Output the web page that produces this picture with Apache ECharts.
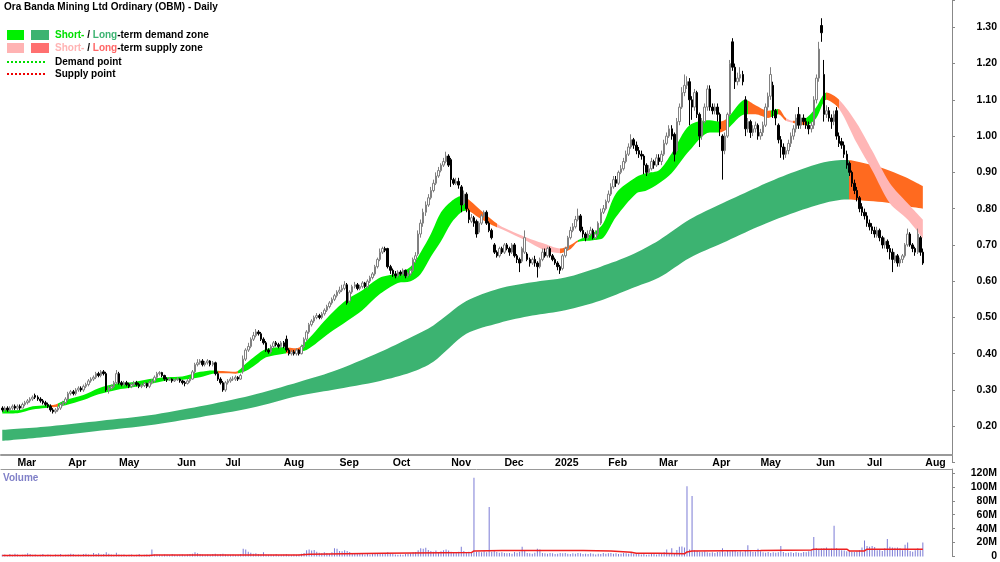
<!DOCTYPE html>
<html>
<head>
<meta charset="utf-8">
<script src="https://cdn.jsdelivr.net/npm/echarts@6/dist/echarts.min.js"></script>
<style>
html, body { margin: 0; padding: 0; background: #fff; }
#chart { width: 1000px; height: 562px; }
</style>
</head>
<body>
<div id="chart"></div>
<script>
// trading calendar
const startDate = '2024-02-22';
const holidays = ['2024-03-29','2024-04-01','2024-04-25','2024-06-10','2024-12-25','2024-12-26',
  '2025-01-01','2025-01-27','2025-04-18','2025-04-21','2025-04-25','2025-06-09'];
const padDays = 11;
const monthNames = ['Jan','Feb','Mar','Apr','May','Jun','Jul','Aug','Sep','Oct','Nov','Dec'];

// daily prices
const opens = [
.250,.245,.250,.245,.250,.255,.250,.255,.250,.260, .265,.270,.275,.285,.280,.275,.270,.265,.260,.255,
.245,.240,.245,.250,.260,.265,.275,.290,.295,.290, .300,.305,.300,.310,.315,.325,.330,.335,.345,.340,
.350,.345,.300,.305,.310,.320,.345,.320,.315,.320, .315,.310,.315,.320,.315,.310,.312,.318,.310,.320,
.325,.335,.345,.348,.340,.330,.328,.330,.325,.328, .330,.325,.320,.318,.325,.330,.350,.370,.375,.380,
.370,.375,.380,.370,.375,.345,.330,.320,.300,.320, .325,.330,.330,.335,.330,.350,.385,.410,.420,.440,
.450,.460,.455,.440,.430,.410,.405,.420,.430,.425, .420,.430,.440,.410,.400,.405,.400,.410,.400,.420,
.440,.460,.480,.490,.500,.505,.500,.510,.520,.530, .540,.550,.560,.570,.575,.580,.590,.545,.570,.585,
.590,.580,.585,.595,.585,.600,.610,.620,.640,.660, .680,.690,.690,.640,.630,.620,.615,.625,.620,.630,
.615,.620,.630,.660,.675,.730,.760,.790,.810,.830, .850,.870,.890,.905,.920,.930,.945,.935,.880,.870,
.875,.860,.815,.840,.795,.765,.775,.765,.735,.760, .780,.790,.760,.740,.700,.680,.670,.690,.680,.700,
.690,.680,.700,.670,.660,.655,.680,.675,.660,.650, .660,.650,.640,.660,.680,.670,.690,.670,.660,.650,
.640,.635,.670,.690,.720,.740,.750,.770,.780,.740, .730,.720,.730,.740,.720,.730,.760,.790,.800,.820,
.840,.860,.880,.870,.900,.910,.930,.950,.970,.990, .975,.960,.950,.945,.920,.900,.910,.930,.920,.940,
.930,.950,.980,1.000,1.020,1.005,.960,1.040,1.080,1.120, 1.140,1.150,1.100,1.080,1.120,1.060,1.000,1.040,1.080,1.130,
1.080,1.070,1.080,1.060,1.000,.960,1.000,1.060,1.260,1.190, 1.150,1.160,1.170,1.100,1.020,1.040,1.010,1.020,1.030,1.000,
1.010,1.030,1.080,1.110,1.140,1.070,1.030,.990,.970,.950, .960,.980,1.000,1.020,1.060,1.030,1.050,1.040,1.030,1.020,
1.030,1.100,1.160,1.305,1.170,1.060,1.070,1.050,1.040,1.070, 1.000,.985,.975,.950,.925,.900,.870,.850,.830,.805,
.790,.780,.760,.750,.740,.725,.740,.720,.700,.710, .690,.680,.655,.670,.650,.660,.670,.700,.730,.700,.690,.680,.720,.680
];
const closes = [
.245,.250,.245,.250,.255,.250,.255,.250,.260,.265, .270,.275,.280,.280,.275,.270,.265,.260,.255,.245,
.240,.245,.250,.260,.265,.275,.290,.295,.290,.300, .305,.300,.310,.315,.325,.330,.335,.345,.340,.350,
.345,.300,.305,.310,.320,.345,.320,.315,.320,.315, .310,.315,.320,.315,.310,.312,.318,.310,.320,.325,
.335,.345,.348,.340,.330,.328,.330,.325,.328,.330, .325,.320,.318,.325,.330,.350,.370,.375,.380,.370,
.375,.380,.370,.375,.345,.330,.320,.300,.320,.325, .330,.330,.335,.330,.340,.385,.410,.420,.440,.450,
.460,.455,.440,.430,.410,.405,.420,.430,.425,.420, .430,.420,.410,.400,.405,.400,.410,.400,.420,.440,
.460,.480,.490,.500,.505,.500,.510,.520,.530,.540, .550,.560,.570,.575,.580,.590,.540,.570,.585,.590,
.580,.585,.595,.585,.600,.610,.620,.640,.660,.680, .690,.685,.640,.630,.620,.615,.625,.620,.630,.615,
.620,.630,.660,.670,.730,.760,.790,.810,.830,.850, .870,.890,.905,.920,.930,.945,.920,.880,.870,.875,
.865,.810,.840,.800,.770,.775,.760,.730,.760,.780, .790,.760,.740,.720,.680,.670,.690,.680,.700,.690,
.680,.700,.670,.660,.650,.690,.720,.660,.650,.660, .650,.640,.660,.680,.670,.690,.670,.660,.650,.640,
.630,.670,.690,.720,.740,.750,.770,.780,.740,.730, .720,.730,.740,.720,.730,.760,.790,.800,.820,.840,
.860,.880,.870,.900,.910,.930,.950,.970,.990,.975, .960,.950,.945,.920,.900,.910,.930,.920,.940,.930,
.950,.980,1.000,1.020,1.000,.950,1.040,1.080,1.120,1.140, 1.150,1.100,1.080,1.120,1.060,1.000,1.040,1.080,1.130,1.080,
1.070,1.080,1.060,1.020,.960,1.000,1.060,1.200,1.190,1.150, 1.160,1.170,1.150,1.020,1.040,1.010,1.020,1.030,1.000,1.010,
1.030,1.080,1.110,1.170,1.070,1.050,.990,.970,.950,.960, .980,1.000,1.020,1.050,1.030,1.050,1.040,1.030,1.020,1.030,
1.100,1.160,1.240,1.285,1.060,1.070,1.050,1.040,1.060,1.000, .980,.975,.950,.920,.900,.870,.850,.830,.800,.790,
.780,.760,.750,.740,.730,.740,.720,.700,.710,.690, .680,.660,.670,.650,.660,.670,.700,.730,.700,.690,.680,.730,.680,.650
];
const highs = [
.255,.255,.255,.255,.260,.260,.260,.260,.265,.270, .275,.280,.285,.290,.285,.280,.275,.270,.265,.260,
.250,.250,.255,.265,.270,.280,.295,.300,.300,.305, .310,.310,.315,.320,.330,.335,.340,.350,.350,.355,
.355,.350,.310,.315,.325,.355,.350,.325,.325,.325, .320,.320,.325,.325,.320,.318,.322,.320,.325,.330,
.340,.350,.352,.350,.342,.335,.335,.332,.332,.335, .332,.328,.325,.330,.335,.355,.375,.385,.385,.385,
.380,.385,.382,.380,.378,.350,.335,.325,.325,.330, .335,.338,.340,.338,.345,.395,.415,.430,.445,.460,
.468,.465,.460,.445,.435,.415,.425,.435,.435,.430, .435,.435,.450,.415,.410,.410,.415,.412,.425,.445,
.465,.485,.495,.505,.512,.510,.515,.525,.535,.545, .555,.565,.575,.585,.590,.600,.595,.575,.590,.598,
.595,.590,.600,.598,.605,.615,.625,.645,.665,.690, .695,.695,.692,.645,.635,.628,.630,.630,.635,.632,
.625,.635,.665,.680,.740,.770,.800,.820,.840,.860, .880,.900,.915,.925,.940,.957,.950,.940,.885,.885,
.885,.865,.850,.845,.800,.785,.780,.770,.765,.785, .795,.795,.765,.745,.705,.685,.695,.695,.705,.705,
.695,.705,.705,.675,.665,.695,.740,.680,.665,.665, .670,.655,.665,.690,.690,.695,.695,.675,.665,.655,
.645,.675,.695,.725,.750,.760,.780,.800,.785,.750, .735,.740,.750,.745,.740,.765,.800,.810,.825,.850,
.870,.890,.890,.905,.920,.940,.960,.980,1.005,.995, .985,.970,.960,.950,.925,.920,.940,.935,.950,.950,
.960,.990,1.010,1.030,1.030,1.010,1.050,1.090,1.135,1.170, 1.165,1.160,1.110,1.130,1.125,1.065,1.050,1.090,1.140,1.140,
1.090,1.090,1.090,1.065,1.005,1.010,1.065,1.210,1.270,1.200, 1.175,1.190,1.180,1.110,1.050,1.045,1.030,1.040,1.035,1.020,
1.040,1.090,1.120,1.190,1.150,1.075,1.035,1.000,.980,.970, .990,1.010,1.030,1.060,1.080,1.060,1.060,1.050,1.040,1.040,
1.110,1.170,1.260,1.325,1.210,1.085,1.080,1.060,1.070,1.080, 1.010,.995,.985,.960,.930,.905,.880,.860,.835,.815,
.800,.790,.770,.760,.750,.750,.745,.725,.720,.715, .700,.690,.680,.675,.665,.675,.705,.745,.735,.705,.695,.745,.725,.690
];
const lows = [
.240,.240,.240,.240,.245,.245,.245,.245,.250,.255, .260,.265,.270,.275,.270,.265,.260,.255,.250,.240,
.235,.235,.240,.245,.255,.260,.270,.285,.285,.285, .295,.295,.295,.305,.310,.320,.325,.330,.335,.335,
.340,.295,.290,.300,.305,.315,.315,.310,.310,.310, .305,.305,.310,.310,.305,.305,.308,.305,.305,.315,
.320,.330,.340,.335,.325,.322,.325,.320,.322,.325, .320,.315,.310,.315,.320,.328,.345,.365,.370,.365,
.365,.370,.365,.365,.340,.325,.315,.295,.295,.315, .320,.325,.325,.325,.328,.345,.380,.405,.415,.435,
.445,.450,.435,.425,.405,.400,.400,.415,.420,.415, .415,.415,.405,.395,.395,.395,.395,.395,.398,.415,
.435,.455,.475,.485,.495,.495,.495,.505,.515,.525, .535,.545,.555,.565,.570,.575,.535,.540,.565,.580,
.575,.575,.580,.580,.580,.595,.605,.615,.635,.655, .675,.680,.635,.620,.612,.608,.610,.615,.615,.608,
.610,.615,.625,.650,.670,.720,.750,.780,.805,.825, .845,.865,.885,.900,.915,.925,.915,.860,.865,.865,
.855,.790,.810,.790,.760,.760,.750,.720,.730,.755, .775,.755,.735,.715,.675,.665,.665,.675,.675,.685,
.670,.675,.665,.650,.625,.650,.675,.655,.640,.645, .640,.610,.635,.655,.665,.665,.665,.655,.645,.630,
.620,.630,.665,.685,.715,.735,.745,.765,.735,.720, .710,.715,.725,.715,.715,.725,.755,.785,.795,.815,
.835,.855,.860,.865,.895,.905,.925,.945,.965,.965, .950,.940,.935,.895,.890,.895,.905,.910,.915,.920,
.920,.945,.975,.995,.990,.930,.955,1.030,1.075,1.110, 1.130,1.030,1.045,1.070,1.050,.970,.990,1.035,1.070,1.070,
1.060,1.060,1.040,1.000,.880,.950,.995,1.055,1.180,1.130, 1.140,1.150,1.140,1.000,1.010,.995,1.000,1.010,.990,.990,
1.000,1.025,1.070,1.100,1.050,1.030,.980,.940,.935,.940, .950,.970,.990,1.010,1.020,1.020,1.030,1.020,1.005,1.010,
1.020,1.090,1.150,1.260,1.040,1.050,1.040,1.020,1.030,.990, .970,.965,.940,.910,.890,.860,.840,.820,.790,.780,
.770,.750,.740,.730,.720,.720,.710,.690,.690,.680, .660,.625,.650,.640,.640,.650,.665,.695,.695,.680,.670,.675,.670,.645
];

// daily volume, millions
const volumes = [
2.5,3,2,3.5,2.5,4,3,2,2.5,3, 4.5,3.5,2.5,3,2,2.5,3.5,2,3,2.5, 2,3,2.5,3.5,2,2.5,3,4,3.5,2.5,
3,2.5,3.5,4,3,2.5,5,3.5,4.5,3, 3.5,6,4,3,2.5,5.5,3,2.5,3,2, 2.5,3,2,2.5,3.5,2,2.5,3,2.5,10,
3,3,2.5,2,3,2.5,2,3.5,2.5,2, 2.5,3,2,3,3.5,4,6,4.5,3.5,3, 2.5,3,2.5,3.5,4,3,3.5,4,3,2.5,
2.5,3,2,2.5,3.5,11,10,7,5.5,4, 4.5,3.5,3,6,3,2.5,3,2.5,3.5,2, 2.5,3,3.5,2.5,2,3,2.5,3,4,5,
9,10,8.5,9.5,7,5.5,4.5,6,5,4, 6,12,11,8,7.5,9,8,6.5,5,4.5, 3.5,4,4.5,3,3.5,3,4,3.5,4.5,5,
4,3.5,6,4.5,3.5,3,2.5,3,2.5,3.5, 4,4.5,6,6.5,9,12,11,12.5,9.5,8, 7,8.5,6.5,7.5,9,10,8.5,7,6.5,6,
7,14,8,6.5,7,5,113,7,7,6, 7.5,6,71,7,9,6.5,5.5,6,5,4.5, 5,4,6.5,5.5,7,14,8,5,4.5,4,
5.5,11,10,5,4.5,4,5,4.5,3.5,4, 5,4.5,5,4,3.5,4.5,4,5,4.5,3.5, 4,3.5,4.5,4,3,4,3.5,5,4,4.5,
5,4,4.5,3.5,4,5,4.5,4,5.5,4, 3.5,4,3,3.5,2.5,3,4,3.5,3,4.5, 3.5,6,10,4,12,5,9.5,14,14.5,13,
101,10,87,9,8,7,6.5,7.5,6,5.5, 6,5,6.5,7,12,6,8,7.5,9,8.5, 7,7.5,6,8,16,7.5,6.5,7,11,7.5,
6,5.5,6.5,5,6,5.5,6,15,6.5,5, 5.5,6,5,6,5.5,5,6.5,6,7.5,9, 28,12,10,11.5,12,13,10,11,44,12,
10,9,8.5,7.5,8,7,6.5,7.5,9,13, 23,15,14,15,13.5,9,10,8,12,25, 14,13,12.5,13,12,9,17,20,8,7,9,12,9,20
];
const volMaIdx = [0, 58, 60, 117, 121, 150, 185, 186, 197, 229, 240, 248, 250, 259, 269, 270, 272, 299, 319, 320, 333, 334, 340, 341, 363];
const volMaVal = [1.5, 1.5, 2.0, 2.0, 3.3, 4.5, 5.7, 8.0, 8.5, 8.6, 8.0, 6.0, 4.8, 4.5, 3.8, 6.5, 8.0, 8.5, 9.5, 10.5, 10.5, 8.0, 8.0, 10.5, 10.5];

// short-term zone edges
const shortIdx = [0, 6, 12, 17, 21, 25, 32, 38, 45, 52, 58, 65, 71, 78, 83, 87, 92, 96, 100, 104, 111, 116, 120,
  129, 136, 142, 149, 156, 161, 165, 169, 173, 177, 181, 183, 188, 193, 197, 207, 213, 220, 224, 227, 233, 237,
  242, 250, 254, 259, 264, 271, 279, 283, 286, 293, 297, 302, 306, 309, 312, 317, 321, 325, 330, 337, 343, 350, 357, 363];
const shortTop = [.245, .244, .255, .258, .260, .272, .286, .305, .318, .322, .330, .335, .337, .350, .354, .352, .350, .372, .395, .413, .418, .415, .435,
  .505, .550, .575, .610, .622, .640, .680, .730, .790, .820, .835, .830, .800, .770, .750, .720, .705, .690, .700, .713, .733, .760,
  .842, .887, .898, .906, .953, 1.030, 1.044, 1.040, 1.050, 1.100, 1.085, 1.070, 1.075, 1.050, 1.042, 1.050, 1.080, 1.120, 1.100, 1.035, .960, .870, .815, .770];
const shortBot = [.235, .236, .246, .250, .253, .258, .272, .288, .300, .308, .316, .326, .328, .335, .345, .346, .345, .352, .370, .390, .400, .405, .410,
  .457, .490, .520, .565, .595, .600, .620, .667, .710, .760, .790, .795, .775, .755, .743, .710, .688, .677, .688, .708, .713, .720,
  .777, .842, .850, .870, .898, .960, 1.010, 1.010, 1.020, 1.060, 1.060, 1.050, 1.060, 1.042, 1.036, 1.030, 1.050, 1.100, 1.075, .980, .906, .815, .770, .718];
const shortZoneFrom = [0, 19, 22, 85, 93, 112, 118, 183, 195, 220, 227, 283, 286, 294, 303, 306, 309, 312, 317, 325, 330];
const shortZoneKind = ['d', 's', 'd', 's', 'd', 's', 'd', 's', 'w', 's', 'd', 's', 'd', 's', 'd', 's', 'w', 's', 'd', 's', 'w'];

// long-term zone edges
const longIdx = [0, 19, 39, 58, 78, 98, 117, 130, 149, 161, 170, 183, 196, 209, 222, 236, 248, 259, 271, 284, 298, 311, 324, 333, 340, 347, 356, 363];
const longTop = [.190, .200, .215, .230, .255, .285, .322, .350, .405, .445, .478, .545, .580, .597, .610, .640, .672, .713, .770, .815, .860, .898, .928, .934, .925, .912, .887, .862];
const longBot = [.160, .172, .188, .203, .225, .250, .284, .300, .325, .348, .378, .455, .485, .505, .520, .547, .580, .610, .664, .705, .750, .786, .815, .825, .822, .818, .807, .800];
const longSupplyFrom = 334;

const C_SHORT_D = '#00f000', C_LONG_D = '#3cb371', C_SUPPLY = '#ff6a1f', C_SHORT_S = '#ffb6b6';

// build the category axis
const dates = [];
(function () {
  const d = new Date(startDate + 'T00:00:00Z');
  while (dates.length < closes.length + padDays) {
    const s = d.toISOString().slice(0, 10);
    const wd = d.getUTCDay();
    if (wd !== 0 && wd !== 6 && holidays.indexOf(s) < 0) dates.push(s);
    d.setUTCDate(d.getUTCDate() + 1);
  }
})();
const isMonthStart = (i) => i > 0 && dates[i].slice(5, 7) !== dates[i - 1].slice(5, 7);
const monthLabel = (s) => {
  const m = +s.slice(5, 7);
  return m === 1 ? s.slice(0, 4) : monthNames[m - 1];
};

const candles = closes.map((c, i) => [opens[i], c, lows[i], highs[i]]);
const kindColor = { d: C_SHORT_D, s: C_SUPPLY, w: C_SHORT_S };
const shortPieces = shortZoneFrom.map((f, i) => ({
  gte: f - 0.5,
  lt: i + 1 < shortZoneFrom.length ? shortZoneFrom[i + 1] - 0.5 : 999,
  color: kindColor[shortZoneKind[i]]
}));

const font = '"Liberation Sans", Arial, sans-serif';
const bandBase = (name, stack, idx, bot) => ({
  name: name, type: 'line', stack: stack, xAxisIndex: 0, yAxisIndex: 0,
  data: idx.map((d, i) => [d, bot[i]]), symbol: 'none', smooth: 0.3, silent: true,
  lineStyle: { opacity: 0 }, z: 1
});
const bandWidth = (name, stack, idx, top, bot) => ({
  name: name, type: 'line', stack: stack, xAxisIndex: 0, yAxisIndex: 0,
  data: idx.map((d, i) => [d, +(top[i] - bot[i]).toFixed(4)]), symbol: 'none', smooth: 0.3, silent: true,
  lineStyle: { width: 0 }, areaStyle: { opacity: 1 }, z: 1
});

var dom = document.getElementById('chart');
var myChart = echarts.init(dom, null, { renderer: 'canvas' });

var option = {
  animation: false,
  backgroundColor: '#fff',
  grid: [
    { left: 1, right: 48, top: 0, height: 462.5 },
    { left: 1, right: 48, top: 469, height: 88 },
    { left: 1, right: 48, top: 455, height: 14 }
  ],
  xAxis: [
    { type: 'category', gridIndex: 0, data: dates, show: false },
    { type: 'category', gridIndex: 1, data: dates, position: 'top',
      axisLine: { onZero: false, lineStyle: { color: '#999', width: 1 } }, axisTick: { show: false }, axisLabel: { show: false } },
    { type: 'category', gridIndex: 2, data: dates, position: 'top',
      axisLine: { onZero: false, lineStyle: { color: '#999', width: 2 } },
      axisTick: { inside: true, length: 2, interval: (i) => isMonthStart(i), lineStyle: { color: '#666' } },
      axisLabel: { inside: true, margin: 3, align: 'left', interval: (i) => isMonthStart(i),
        formatter: monthLabel, color: '#000', fontWeight: 'bold', fontSize: 10.5, fontFamily: font } }
  ],
  yAxis: [
    { type: 'value', gridIndex: 0, position: 'right', min: 0.1, max: 1.3753, interval: 0.1,
      splitLine: { show: false },
      axisLine: { show: true, lineStyle: { color: '#888' } },
      axisTick: { show: true, length: 3, lineStyle: { color: '#888' } },
      axisLabel: { formatter: (v) => (v < 0.15 || v > 1.35) ? '' : v.toFixed(2), align: 'right', margin: 45,
        color: '#000', fontWeight: 'bold', fontSize: 10.5, fontFamily: font } },
    { type: 'value', gridIndex: 1, position: 'right', min: 0, max: 125.7, interval: 20,
      splitLine: { show: false },
      axisLine: { show: true, lineStyle: { color: '#888' } },
      axisTick: { show: true, length: 3, lineStyle: { color: '#888' } },
      axisLabel: { formatter: (v) => v === 0 ? '0' : (v > 121 ? '' : v + 'M'), showMaxLabel: false, align: 'right', margin: 45,
        padding: [3, 0, 0, 0], color: '#000', fontWeight: 'bold', fontSize: 10.5, fontFamily: font } },
    { type: 'value', gridIndex: 2, show: false }
  ],
  visualMap: [
    { type: 'piecewise', show: false, seriesIndex: 1, dimension: 0,
      pieces: [{ gte: -1, lt: longSupplyFrom - 0.5, color: C_LONG_D }, { gte: longSupplyFrom - 0.5, lt: 999, color: C_SUPPLY }] },
    { type: 'piecewise', show: false, seriesIndex: 3, dimension: 0, pieces: shortPieces }
  ],
  graphic: [
    { type: 'text', left: 4, top: 2, style: { text: 'Ora Banda Mining Ltd Ordinary (OBM) - Daily', font: 'bold 10px ' + font, fill: '#000' } },
    { type: 'rect', shape: { x: 7, y: 30, width: 17, height: 10 }, style: { fill: C_SHORT_D } },
    { type: 'rect', shape: { x: 31, y: 30, width: 18, height: 10 }, style: { fill: C_LONG_D } },
    { type: 'rect', shape: { x: 7, y: 43, width: 17, height: 10 }, style: { fill: '#ffb3b3' } },
    { type: 'rect', shape: { x: 31, y: 43, width: 18, height: 10 }, style: { fill: '#ff7070' } },
    { type: 'line', shape: { x1: 7, y1: 62, x2: 45, y2: 62 }, style: { stroke: '#00dd00', lineWidth: 2, lineDash: [2, 2] } },
    { type: 'line', shape: { x1: 7, y1: 74, x2: 45, y2: 74 }, style: { stroke: '#ee0000', lineWidth: 2, lineDash: [2, 2] } },
    { type: 'text', x: 55, y: 35, style: { text: '{a|Short-} / {b|Long}-term demand zone', font: 'bold 10px ' + font, fill: '#000', verticalAlign: 'middle',
      rich: { a: { fill: '#00e000', font: 'bold 10px ' + font }, b: { fill: C_LONG_D, font: 'bold 10px ' + font } } } },
    { type: 'text', x: 55, y: 48, style: { text: '{a|Short-} / {b|Long}-term supply zone', font: 'bold 10px ' + font, fill: '#000', verticalAlign: 'middle',
      rich: { a: { fill: '#ffb3b3', font: 'bold 10px ' + font }, b: { fill: '#ff6666', font: 'bold 10px ' + font } } } },
    { type: 'text', x: 55, y: 62, style: { text: 'Demand point', font: 'bold 10px ' + font, fill: '#000', verticalAlign: 'middle' } },
    { type: 'text', x: 55, y: 74, style: { text: 'Supply point', font: 'bold 10px ' + font, fill: '#000', verticalAlign: 'middle' } },
    { type: 'text', left: 3, top: 473, style: { text: 'Volume', font: 'bold 10px ' + font, fill: '#8080c8' } }
  ],
  series: [
    bandBase('longBase', 'long', longIdx, longBot),
    bandWidth('longZone', 'long', longIdx, longTop, longBot),
    bandBase('shortBase', 'short', shortIdx, shortBot),
    bandWidth('shortZone', 'short', shortIdx, shortTop, shortBot),
    { name: 'OBM', type: 'candlestick', xAxisIndex: 0, yAxisIndex: 0, data: candles, barWidth: 2, z: 3,
      itemStyle: { color: '#fff', color0: '#000', borderColor: '#808080', borderColor0: '#000', borderWidth: 1 } },
    { name: 'Volume', type: 'bar', xAxisIndex: 1, yAxisIndex: 1, data: volumes, barWidth: 1,
      itemStyle: { color: '#7b7bd5' } },
    { name: 'Volume MA', type: 'line', xAxisIndex: 1, yAxisIndex: 1, symbol: 'none',
      data: volMaIdx.map((d, i) => [d, volMaVal[i]]), lineStyle: { color: '#ee2020', width: 1.5 }, z: 3 }
  ]
};

if (option && typeof option === 'object') {
  myChart.setOption(option);
}
window.addEventListener('resize', myChart.resize);
</script>
</body>
</html>
